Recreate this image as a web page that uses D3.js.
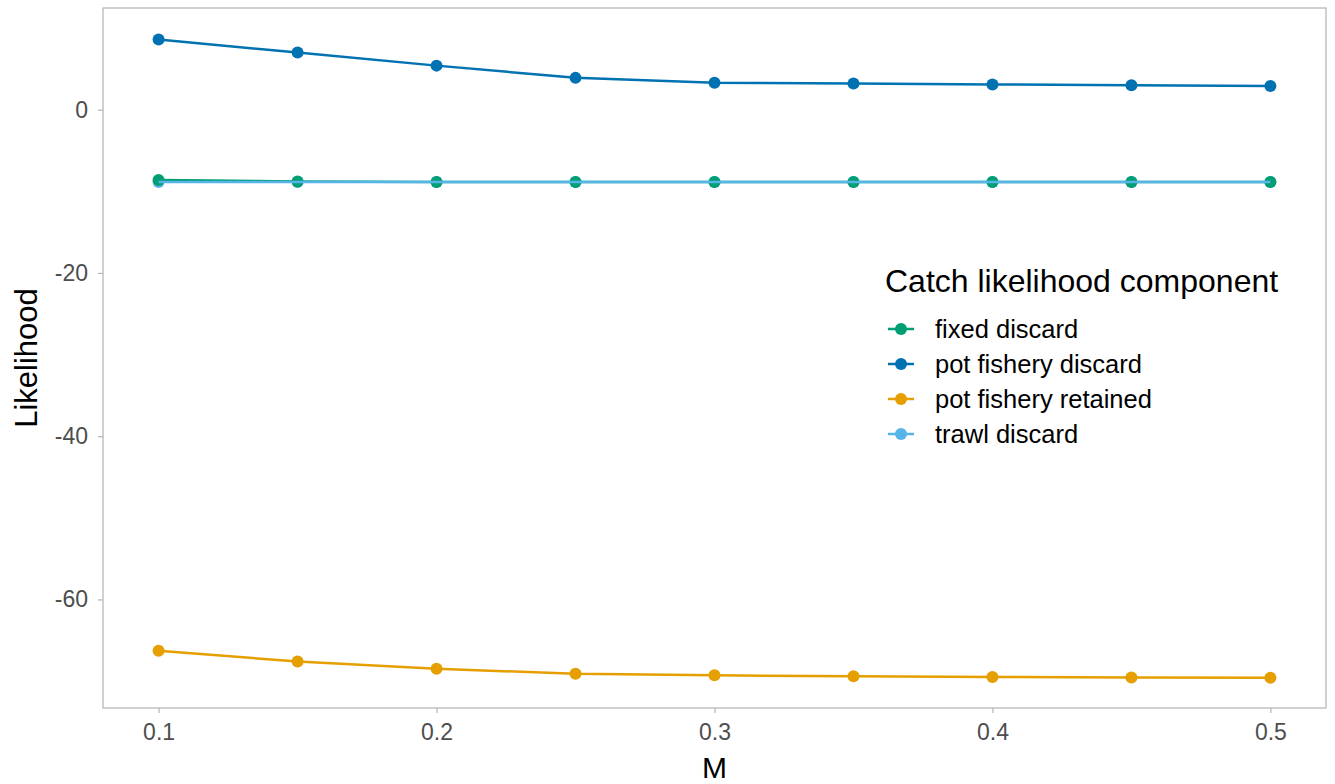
<!DOCTYPE html>
<meta charset="utf-8">
<style>
  body { margin: 0; background: #fff; }
  text { font-family: "Liberation Sans", Arial, sans-serif; }
</style>
<div id="chart"></div>
<script src="https://d3js.org/d3.v7.min.js"></script>
<script>

// data
var mValues = [0.1, 0.15, 0.2, 0.25, 0.3, 0.35, 0.4, 0.45, 0.5];
var seriesNames = ["fixed discard", "pot fishery discard", "pot fishery retained", "trawl discard"];
var fixedDiscard = [-8.6, -8.8, -8.85, -8.85, -8.85, -8.85, -8.85, -8.85, -8.85];
var potDiscard = [8.6, 7.0, 5.4, 3.9, 3.3, 3.2, 3.1, 3.0, 2.9];
var potRetained = [-66.3, -67.6, -68.5, -69.1, -69.3, -69.4, -69.5, -69.55, -69.6];
var trawlDiscard = [-8.85, -8.85, -8.85, -8.85, -8.85, -8.85, -8.85, -8.85, -8.85];
var colors = ["#009E73", "#0072B2", "#E69F00", "#56B4E9"];
var xTicks = [0.1, 0.2, 0.3, 0.4, 0.5];
var yTicks = [0, -20, -40, -60];

var series = [fixedDiscard, potDiscard, potRetained, trawlDiscard].map(function(vals, i) {
  return { name: seriesNames[i], color: colors[i],
    values: vals.map(function(v, j) { return { m: mValues[j], v: v }; }) };
});

var W = 1335, H = 784;
var margin = {top: 8, right: 9, bottom: 76, left: 103};
var width = W - margin.left - margin.right,
    height = H - margin.top - margin.bottom;

var svg = d3.select("#chart").append("svg")
  .attr("width", W).attr("height", H);
var g = svg.append("g")
  .attr("transform", "translate(" + margin.left + "," + margin.top + ")");

var x = d3.scaleLinear().domain([0.08, 0.52]).range([0, width]);
var y = d3.scaleLinear().domain([-73.3, 12.46]).range([height, 0]);

// axes
var xAxis = g.append("g")
  .attr("transform", "translate(0," + height + ")")
  .call(d3.axisBottom(x).tickValues(xTicks).tickSize(5).tickPadding(11).tickFormat(d3.format(".1f")));
var yAxis = g.append("g")
  .call(d3.axisLeft(y).tickValues(yTicks).tickSize(5).tickPadding(10)
    .tickFormat(function(d) { return String(d); }));
[xAxis, yAxis].forEach(function(a) {
  a.select(".domain").remove();
  a.selectAll("line").attr("stroke", "#b3b3b3").attr("stroke-width", 1.2);
  a.selectAll("text").attr("fill", "#4d4d4d")
    .style("font-size", "23px")
    .style("font-family", "'Liberation Sans', Arial, sans-serif");
});

// panel border
g.append("rect")
  .attr("width", width).attr("height", height)
  .attr("fill", "none").attr("stroke", "#b3b3b3").attr("stroke-width", 1.2);

// points first (trawl under fixed), then lines
var pointOrder = [3, 0, 1, 2];
pointOrder.forEach(function(i) {
  g.selectAll(null).data(series[i].values).enter().append("circle")
    .attr("cx", function(d) { return x(d.m); })
    .attr("cy", function(d) { return y(d.v); })
    .attr("r", 6)
    .attr("fill", series[i].color);
});

var line = d3.line().x(function(d) { return x(d.m); }).y(function(d) { return y(d.v); });
series.forEach(function(s) {
  g.append("path").datum(s.values)
    .attr("d", line)
    .attr("fill", "none")
    .attr("stroke", s.color)
    .attr("stroke-width", 2.5);
});

// axis titles
svg.append("text")
  .attr("x", margin.left + width / 2).attr("y", 778)
  .attr("text-anchor", "middle")
  .style("font-size", "30px")
  .text("M");
svg.append("text")
  .attr("transform", "translate(37," + (margin.top + height / 2) + ") rotate(-90)")
  .attr("text-anchor", "middle")
  .style("font-size", "31px")
  .text("Likelihood");

// legend
var legend = svg.append("g").attr("transform", "translate(885,0)");
legend.append("text")
  .attr("x", 0).attr("y", 292)
  .style("font-size", "32px")
  .text("Catch likelihood component");
series.forEach(function(s, i) {
  var yy = 329 + i * 35;
  legend.append("line")
    .attr("x1", 3).attr("x2", 29).attr("y1", yy).attr("y2", yy)
    .attr("stroke", s.color).attr("stroke-width", 2.5);
  legend.append("circle")
    .attr("cx", 16).attr("cy", yy).attr("r", 6).attr("fill", s.color);
  legend.append("text")
    .attr("x", 50).attr("y", yy + 9)
    .style("font-size", "25.5px")
    .text(s.name);
});

</script>
